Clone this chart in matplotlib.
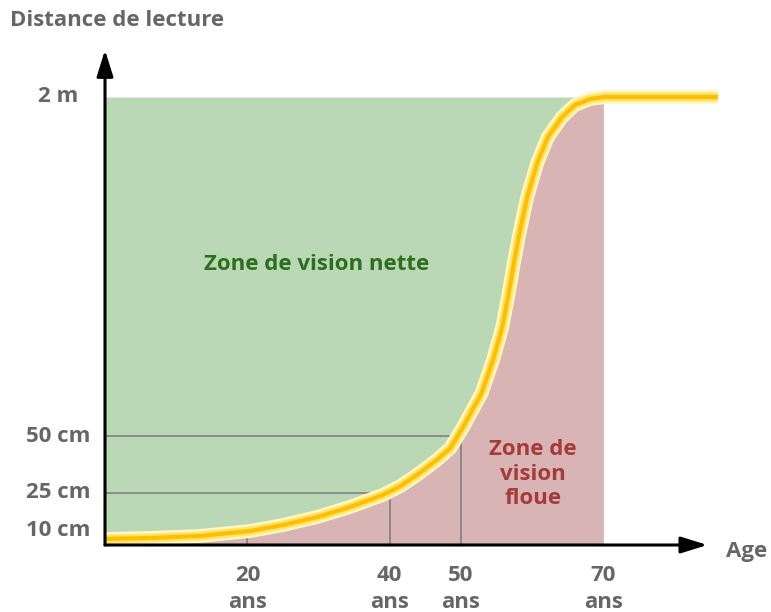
import matplotlib.pyplot as plt
import numpy as np

plt.rcParams['font.family'] = ['Open Sans', 'DejaVu Sans']

# schematic curve: age (years) vs reading-distance level (schematic units)
ages = [0, 6.3, 13.3, 20.4, 25.0, 29.8, 34.4, 39.0, 41.5, 43.8, 46.6, 48.5,
        50.3, 52.9, 54.5, 55.8, 56.7, 57.5, 58.3, 59.3, 60.7, 62.2, 64.2,
        66.0, 68.1, 70.2, 86.1]
levels = [6, 7, 9, 14, 20, 28, 38, 50, 59, 70, 85, 97,
          118, 152, 185, 218, 252, 285, 315, 348, 382, 408, 428,
          440, 446, 448, 448]

ytick_pos = [14, 52, 109, 448]
ytick_labels = ['10 cm', '25 cm', '50 cm', '2 m']
xtick_ages = [20, 40, 50, 70]
xtick_labels = ['20\nans', '40\nans', '50\nans', '70\nans']
guide_ages = [40, 50]          # horizontal guides for 25 cm / 50 cm
guide_levels = [52, 109]
zone_end = 70
top_level = 448

ages = np.array(ages)
levels = np.array(levels)

fig = plt.figure(figsize=(7.71, 6.12), dpi=100)
ax = fig.add_axes([105 / 771, 67 / 612, 625 / 771, 500 / 612])
ax.set_xlim(0, 625 / 7.12)
ax.set_ylim(0, 500)
ax.axis('off')

green = '#bad8b6'
red = '#d8b4b4'
grey_txt = '#666666'
fs = 16

# zones
fa = np.linspace(0, zone_end, 600)
fl = np.interp(fa, ages, levels)
ax.fill_between(fa, 0, fl, color=red, lw=0, zorder=1)
ax.fill_between(fa, fl, top_level, color=green, lw=0, zorder=1)

# guide lines
for a, lv in zip(guide_ages, guide_levels):
    ax.plot([0, a], [lv, lv], color='#808080', lw=1.2, zorder=2)
for a in xtick_ages[:3]:
    ax.plot([a, a], [0, np.interp(a, ages, levels)], color='#808080', lw=1.2, zorder=2)

# glowing curve
ax.plot(ages, levels, color='#fff7c2', lw=10, solid_capstyle='butt',
        solid_joinstyle='round', zorder=3)
ax.plot(ages, levels, color='#ffe56e', lw=6.5, solid_capstyle='butt',
        solid_joinstyle='round', zorder=3)
ax.plot(ages, levels, color='#ffbf00', lw=3, solid_capstyle='butt',
        solid_joinstyle='round', zorder=4)

# axes arrows
ax.annotate('', xy=(84.6, 0), xytext=(0, 0),
            arrowprops=dict(arrowstyle='-|>,head_length=1.6,head_width=0.5',
                            color='black', lw=2.2, shrinkA=0, shrinkB=0), zorder=5)
ax.annotate('', xy=(0, 495), xytext=(0, 0),
            arrowprops=dict(arrowstyle='-|>,head_length=1.6,head_width=0.5',
                            color='black', lw=2.2, shrinkA=0, shrinkB=0), zorder=5)

# tick labels
for p, lab in zip(ytick_pos, ytick_labels):
    ax.text((58 - 105) / 7.12, p, lab, ha='center', va='center', fontsize=fs,
            fontweight='bold', color=grey_txt)
for a, lab in zip(xtick_ages, xtick_labels):
    ax.text(a, -20, lab, ha='center', va='top', fontsize=fs,
            fontweight='bold', color=grey_txt, linespacing=1.4)

fig.text(10 / 771, 1 - 21 / 612, 'Distance de lecture', ha='left', va='center',
         fontsize=fs, fontweight='bold', color=grey_txt)
ax.text((726 - 105) / 7.12, -12, 'Age', ha='left', va='baseline', fontsize=fs,
        fontweight='bold', color=grey_txt)

ax.text((317 - 105) / 7.12, 545 - 265, 'Zone de vision nette', ha='center',
        va='center', fontsize=fs, fontweight='bold', color='#2d6e1f')
ax.text((533 - 105) / 7.12, 545 - 474, 'Zone de\nvision\nfloue', ha='center',
        va='center', fontsize=fs, fontweight='bold', color='#a63a3a',
        linespacing=1.2)

fig.savefig('out.png', dpi=100)
